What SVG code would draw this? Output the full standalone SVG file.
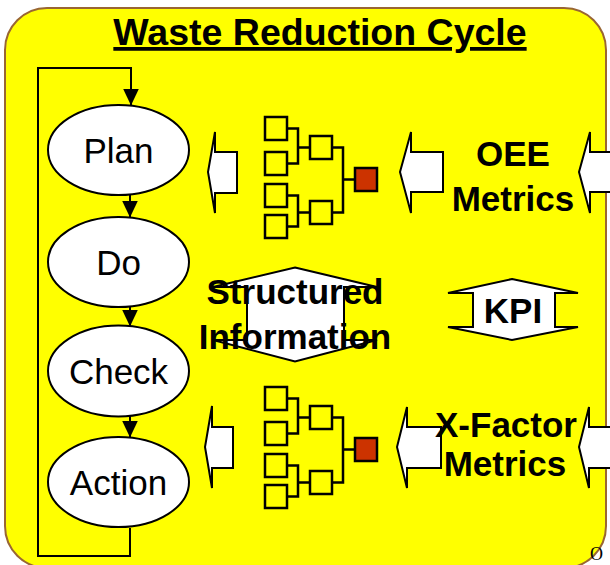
<svg xmlns="http://www.w3.org/2000/svg" width="610" height="565" viewBox="0 0 610 565">
<defs>
<style>
.bg{fill:#FFFF00;stroke:#996633;stroke-width:2}
.ell{fill:#FFFFFF;stroke:#000;stroke-width:2}
.lbl{font-family:"Liberation Sans",Arial,sans-serif;font-size:35px;fill:#000;text-anchor:middle}
.bold{font-family:"Liberation Sans",Arial,sans-serif;font-size:35px;font-weight:bold;fill:#000;text-anchor:middle}
.blk{fill:#FFFFFF;stroke:#000;stroke-width:2;stroke-linejoin:miter}
.box{fill:none;stroke:#000;stroke-width:2.5}
.red{fill:#CC3300;stroke:#000;stroke-width:2.5}
.ln{fill:none;stroke:#000;stroke-width:2.5}
.con{fill:none;stroke:#000;stroke-width:2}
</style>
<marker id="tri" viewBox="0 0 17 16" refX="17" refY="8" markerWidth="17" markerHeight="16" orient="auto" markerUnits="userSpaceOnUse">
<path d="M0,0 L17,8 L0,16 Z" fill="#000"/>
</marker>
<g id="tree">
<rect class="box" x="265" y="117" width="22" height="23"/>
<rect class="box" x="265" y="152" width="22" height="23"/>
<rect class="box" x="265" y="184" width="22" height="23"/>
<rect class="box" x="265" y="215" width="22" height="23"/>
<rect class="box" x="310" y="136" width="22" height="23"/>
<rect class="box" x="310" y="201" width="22" height="23"/>
<rect class="red" x="355" y="168" width="22" height="23"/>
<path class="ln" d="M287,128.5 H298 V163.5 H287 M298,147.5 H310 M287,195.5 H298 V226.5 H287 M298,212.5 H310 M332,147.5 H343 V212.5 H332 M343,179.5 H355"/>
</g>
</defs>

<rect class="bg" x="5" y="8" width="601" height="560" rx="42" ry="42"/>

<text x="320" y="45" font-family="Liberation Sans, Arial, sans-serif" font-size="37.5" font-weight="bold" text-anchor="middle" text-decoration="underline">Waste Reduction Cycle</text>

<g id="connectors">
<path class="con" d="M130,528 V556 H38 V68 H131 V105.5" marker-end="url(#tri)"/>
<path class="con" d="M130,194 V217.5" marker-end="url(#tri)"/>
<path class="con" d="M130,306 V326.5" marker-end="url(#tri)"/>
<path class="con" d="M130,415.5 V437.5" marker-end="url(#tri)"/>
</g>

<g id="plan"><ellipse class="ell" cx="118.5" cy="150" rx="70.5" ry="45"/><text class="lbl" x="118.5" y="162.5">Plan</text></g>
<g id="do"><ellipse class="ell" cx="118.5" cy="262" rx="70.5" ry="45"/><text class="lbl" x="118.5" y="274.5">Do</text></g>
<g id="check"><ellipse class="ell" cx="118.5" cy="371" rx="70.5" ry="45.5"/><text class="lbl" x="118.5" y="383.5">Check</text></g>
<g id="action"><ellipse class="ell" cx="118.5" cy="482" rx="70.5" ry="45"/><text class="lbl" x="118.5" y="494.5">Action</text></g>

<g id="arrow-plan"><path class="blk" d="M215,132 L208,172 L215,213 L215,193 L237,193 L237,152 L215,152 Z"/></g>
<g id="arrow-action"><path class="blk" d="M212,406 L205,447 L212,488 L212,468 L233,468 L233,427 L212,427 Z"/></g>

<g id="tree-top"><use href="#tree"/></g>
<g id="tree-bottom"><use href="#tree" transform="translate(0,270)"/></g>

<g id="arrow-oee-left"><path class="blk" d="M411,132 L400,172 L411,213 L411,192 L443,192 L443,152 L411,152 Z"/></g>
<g id="arrow-oee-right"><path class="blk" d="M590,132 L579,172 L590,213 L590,192 L630,192 L630,152 L590,152 Z"/></g>
<g id="oee"><text class="bold" x="513" y="165.5">OEE</text><text class="bold" x="513" y="210.5">Metrics</text></g>

<g id="structured">
<path class="blk" d="M295,267.5 L377,287 L344,287 L344,340 L377,340 L295,361.5 L213,340 L247,340 L247,287 L213,287 Z"/>
<text class="bold" x="295" y="303.5" font-size="36">Structured</text>
<text class="bold" x="295" y="348.5" font-size="36">Information</text>
</g>

<g id="kpi">
<path class="blk" d="M512,279 L578,293 L555,293 L555,327 L578,327 L512,340 L448,327 L473,327 L473,293 L448,293 Z"/>
<text class="bold" x="513" y="322.5">KPI</text>
</g>

<g id="arrow-x-left"><path class="blk" d="M407,407 L397,447 L407,488 L407,468 L441,468 L441,427 L407,427 Z"/></g>
<g id="arrow-x-right"><path class="blk" d="M589,407 L579,447 L589,488 L589,468 L630,468 L630,427 L589,427 Z"/></g>
<g id="xfactor"><text class="bold" x="506" y="437">X-Factor</text><text class="bold" x="505" y="476">Metrics</text></g>

<text x="590" y="560" font-family="Liberation Serif, Times New Roman, serif" font-size="18">O</text>
</svg>
